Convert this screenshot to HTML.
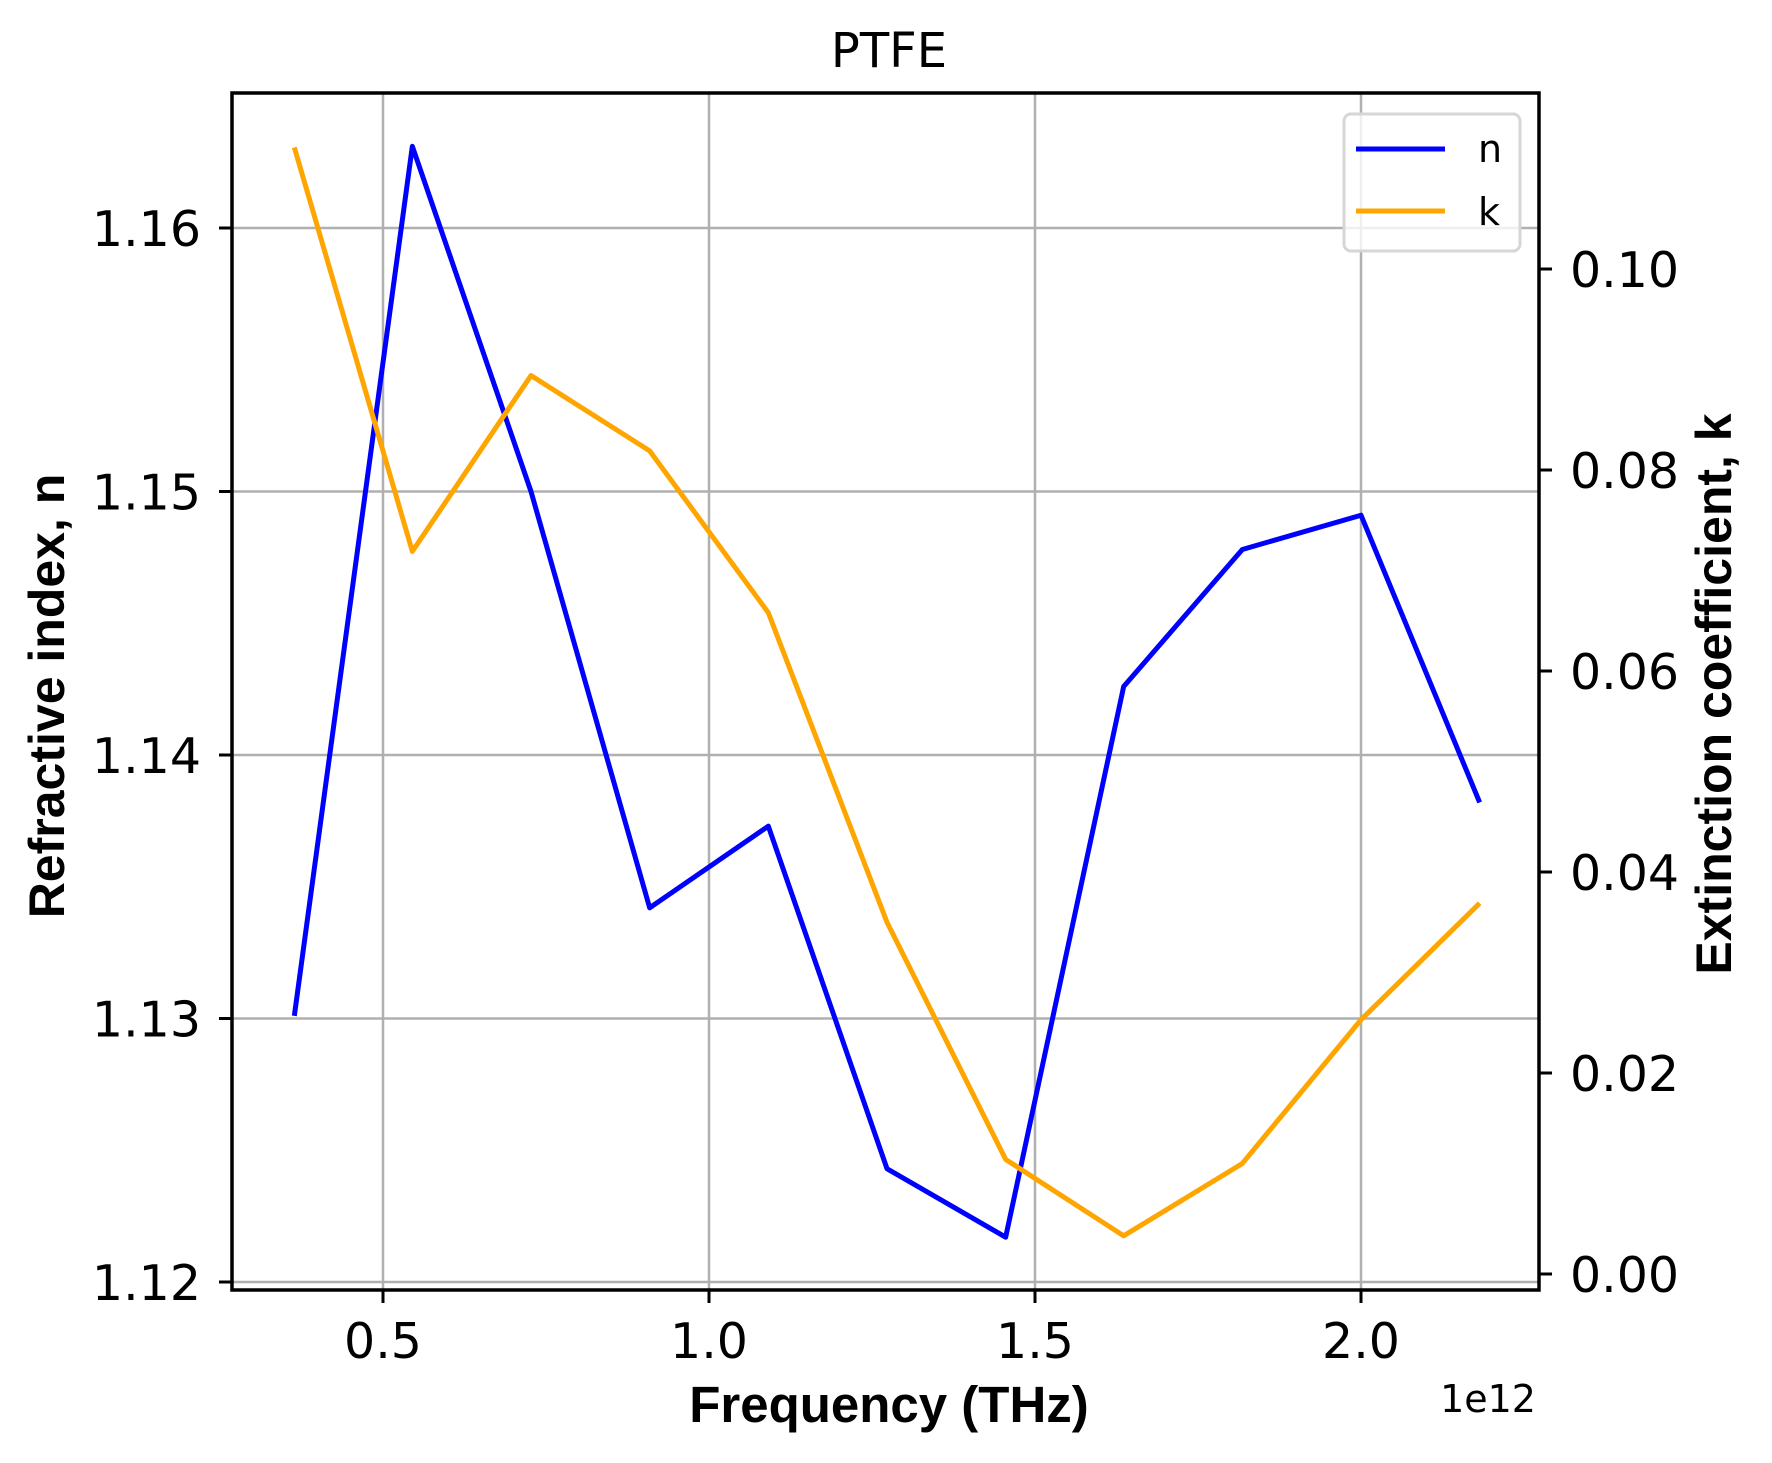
<!DOCTYPE html>
<html><head><meta charset="utf-8"><style>html,body{margin:0;padding:0;background:#fff}svg{display:block}</style></head>
<body>
<svg id="chart" width="1772" height="1463" viewBox="0 0 1772 1463" xmlns="http://www.w3.org/2000/svg" font-family="DejaVu Sans, sans-serif"></svg>
<script>
const freqs=[0.364,0.545,0.727,0.909,1.091,1.273,1.455,1.636,1.818,2.0,2.182];
const nVals=[1.1301,1.1631,1.1500,1.1342,1.1373,1.1243,1.1217,1.1426,1.1478,1.1491,1.1382];
const kVals=[0.1121,0.0719,0.0894,0.0819,0.0658,0.0350,0.0114,0.0038,0.0110,0.0253,0.0369];
const xTicks=[0.5,1.0,1.5,2.0];
const nTicks=[1.12,1.13,1.14,1.15,1.16];
const kTicks=[0.00,0.02,0.04,0.06,0.08,0.10];
const L=232,R=1539,T=93,B=1290;
const sx=v=>383+(v-0.5)*652;
const sn=v=>228+(1.16-v)*26350;
const sk=v=>1274-v*10050;
const svg=document.getElementById('chart');
const NS='http://www.w3.org/2000/svg';
function mk(tag,attrs,parent){const e=document.createElementNS(NS,tag);for(const k in attrs)e.setAttribute(k,attrs[k]);(parent||svg).appendChild(e);return e;}
function txt(s,attrs){const e=mk('text',attrs);e.textContent=s;return e;}
let t;
xTicks.forEach(v=>{const g=mk('line',{x1:sx(v),x2:sx(v),y1:T,y2:B,stroke:'#b0b0b0','stroke-width':2.5});

});
nTicks.forEach(v=>{const g=mk('line',{x1:L,x2:R,y1:sn(v),y2:sn(v),stroke:'#b0b0b0','stroke-width':2.5});

});
const pn=mk('polyline',{points:freqs.map((f,i)=>sx(f)+','+sn(nVals[i])).join(' '),fill:'none',stroke:'#0000ff','stroke-width':5,'stroke-linejoin':'round'});


const pk=mk('polyline',{points:freqs.map((f,i)=>sx(f)+','+sk(kVals[i])).join(' '),fill:'none',stroke:'#ffa500','stroke-width':5,'stroke-linejoin':'round'});


const fr=mk('rect',{x:L,y:T,width:R-L,height:B-T,fill:'none',stroke:'#000','stroke-width':3.5});


xTicks.forEach(v=>{mk('line',{x1:sx(v),x2:sx(v),y1:B,y2:B+13,stroke:'#000','stroke-width':3});
t=txt(v.toFixed(1),{x:sx(v),y:1358,'font-size':49,'text-anchor':'middle'});

});
nTicks.forEach(v=>{mk('line',{x1:L-13,x2:L,y1:sn(v),y2:sn(v),stroke:'#000','stroke-width':3});
t=txt(v.toFixed(2),{x:201,y:sn(v)+18,'font-size':49,'text-anchor':'end'});

});
kTicks.forEach(v=>{mk('line',{x1:R,x2:R+13,y1:sk(v),y2:sk(v),stroke:'#000','stroke-width':3});
t=txt(v.toFixed(2),{x:1570,y:sk(v)+18,'font-size':49,'text-anchor':'start'});

});
t=txt('PTFE',{x:889,y:67,'font-size':48,'text-anchor':'middle'});


t=txt('Frequency (THz)',{x:889,y:1422,'font-size':51,'font-weight':'bold','font-family':'Liberation Sans, sans-serif','text-anchor':'middle'});


t=txt('1e12',{x:1536,y:1412,'font-size':38,'text-anchor':'end'});


t=txt('Refractive index, n',{x:0,y:0,'font-size':50,'font-weight':'bold','font-family':'Liberation Sans, sans-serif','text-anchor':'middle',transform:'translate(64,696) rotate(-90)'});


t=txt('Extinction coefficient, k',{x:0,y:0,'font-size':50,'font-weight':'bold','font-family':'Liberation Sans, sans-serif','text-anchor':'middle',transform:'translate(1731,694) rotate(-90)'});


const lg=mk('g',{});


mk('rect',{x:1344,y:114,width:176,height:137,rx:7,fill:'rgba(255,255,255,0.8)',stroke:'#d6d6d6','stroke-width':3},lg);
const e1=mk('line',{x1:1356,x2:1445,y1:149,y2:149,stroke:'#0000ff','stroke-width':5},lg);


const l1=mk('text',{x:1478,y:162,'font-size':38},lg);l1.textContent='n';
const e2=mk('line',{x1:1356,x2:1445,y1:211,y2:211,stroke:'#ffa500','stroke-width':5},lg);


const l2=mk('text',{x:1478,y:225,'font-size':38},lg);l2.textContent='k';
</script>
</body></html>
